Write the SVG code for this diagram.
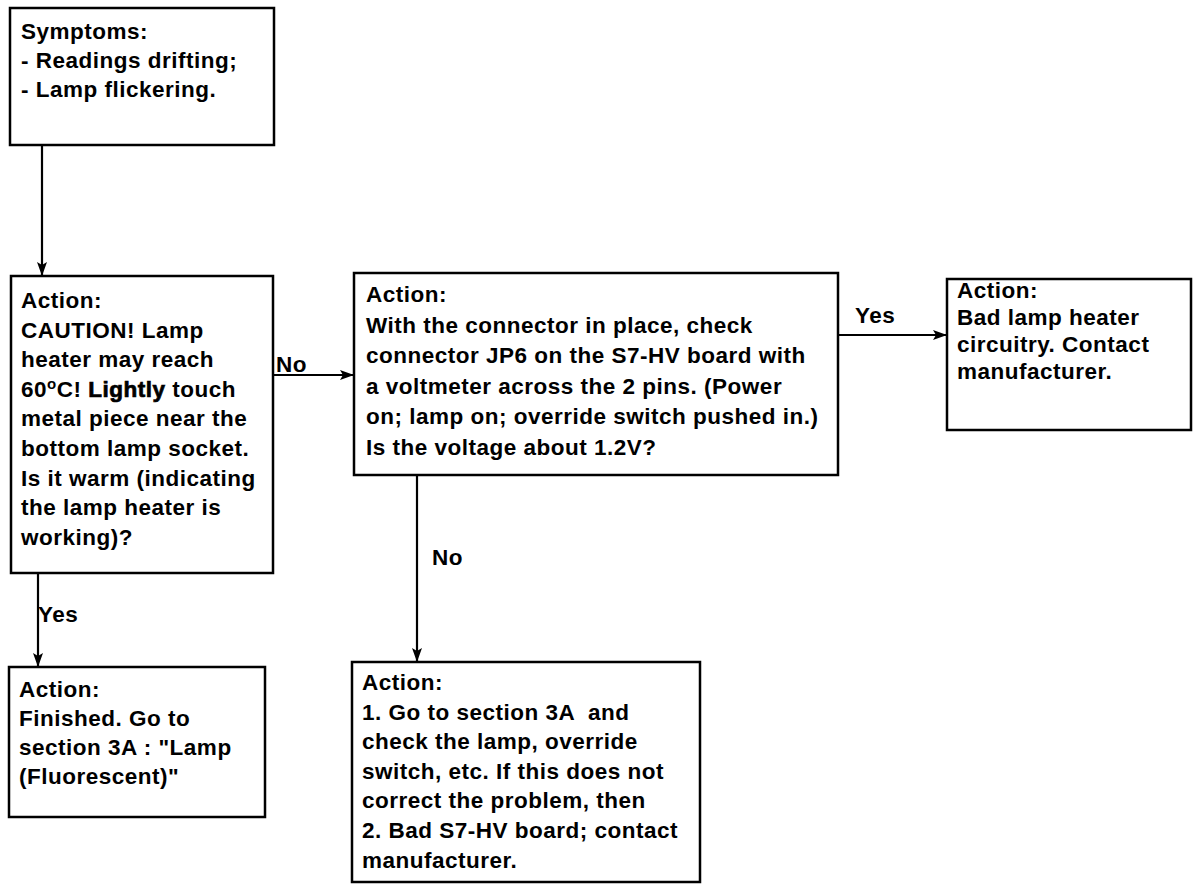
<svg xmlns="http://www.w3.org/2000/svg" width="1193" height="884" viewBox="0 0 1193 884">
  <style>
    .box { fill: #fff; stroke: #000; stroke-width: 2.5; }
    .t { font-family: "Liberation Sans", Arial, sans-serif; font-size: 22.5px; font-weight: bold; fill: #000; letter-spacing: 0.5px; }
    .wire { fill: none; stroke: #000; stroke-width: 2.2; }
    .em { stroke: #000; stroke-width: 0.7; }
  </style>
  <defs>
    <marker id="arr" viewBox="0 0 14 10" refX="13" refY="5" markerWidth="14" markerHeight="10" markerUnits="userSpaceOnUse" orient="auto">
      <path d="M0,0 L14,5 L0,10 L3,5 z" fill="#000"/>
    </marker>
  </defs>
  <rect width="1193" height="884" fill="#fff"/>

  <!-- connectors -->
  <g id="connectors">
    <line class="wire" x1="42" y1="145" x2="42" y2="275" marker-end="url(#arr)"/>
    <line class="wire" x1="273" y1="375" x2="353" y2="375" marker-end="url(#arr)"/>
    <text class="t" x="276" y="372">No</text>
    <line class="wire" x1="838" y1="335" x2="946" y2="335" marker-end="url(#arr)"/>
    <text class="t" x="855" y="323">Yes</text>
    <line class="wire" x1="38" y1="573" x2="38" y2="666" marker-end="url(#arr)"/>
    <text class="t" x="38" y="622">Yes</text>
    <line class="wire" x1="417" y1="475" x2="417" y2="661" marker-end="url(#arr)"/>
    <text class="t" x="432" y="565">No</text>
  </g>

  <!-- symptoms -->
  <g id="symptoms">
    <rect class="box" x="10" y="8" width="264" height="137"/>
    <text class="t" x="21" y="39">Symptoms:</text>
    <text class="t" x="21" y="68">- Readings drifting;</text>
    <text class="t" x="21" y="97">- Lamp flickering.</text>
  </g>

  <!-- heater check -->
  <g id="heater-check">
    <rect class="box" x="11" y="276" width="262" height="297"/>
    <text class="t" x="21" y="308">Action:</text>
    <text class="t" x="21" y="337.6">CAUTION! Lamp</text>
    <text class="t" x="21" y="367.2">heater may reach</text>
    <text class="t" x="21" y="396.8">60<tspan dy="-8" font-size="15">o</tspan><tspan dy="8">C! </tspan><tspan class="em">Lightly</tspan> touch</text>
    <text class="t" x="21" y="426.4">metal piece near the</text>
    <text class="t" x="21" y="456">bottom lamp socket.</text>
    <text class="t" x="21" y="485.6">Is it warm (indicating</text>
    <text class="t" x="21" y="515.2">the lamp heater is</text>
    <text class="t" x="21" y="544.8">working)?</text>
  </g>

  <!-- JP6 voltage check -->
  <g id="jp6-check">
    <rect class="box" x="354" y="273" width="484" height="202"/>
    <text class="t" x="366" y="302">Action:</text>
    <text class="t" x="366" y="332.5">With the connector in place, check</text>
    <text class="t" x="366" y="363">connector JP6 on the S7-HV board with</text>
    <text class="t" x="366" y="393.5">a voltmeter across the 2 pins. (Power</text>
    <text class="t" x="366" y="424">on; lamp on; override switch pushed in.)</text>
    <text class="t" x="366" y="454.5">Is the voltage about 1.2V?</text>
  </g>

  <!-- bad heater circuitry -->
  <g id="bad-heater">
    <rect class="box" x="947" y="279" width="244" height="151"/>
    <text class="t" x="957" y="298">Action:</text>
    <text class="t" x="957" y="325">Bad lamp heater</text>
    <text class="t" x="957" y="352">circuitry. Contact</text>
    <text class="t" x="957" y="379">manufacturer.</text>
  </g>

  <!-- finished -->
  <g id="finished">
    <rect class="box" x="9" y="667" width="256" height="150"/>
    <text class="t" x="19" y="697">Action:</text>
    <text class="t" x="19" y="726">Finished. Go to</text>
    <text class="t" x="19" y="755">section 3A : "Lamp</text>
    <text class="t" x="19" y="784">(Fluorescent)"</text>
  </g>

  <!-- section 3A / board fault -->
  <g id="board-fault">
    <rect class="box" x="352" y="662" width="348" height="220"/>
    <text class="t" x="362" y="690">Action:</text>
    <text class="t" x="362" y="719.6" style="white-space:pre">1. Go to section 3A  and</text>
    <text class="t" x="362" y="749.2">check the lamp, override</text>
    <text class="t" x="362" y="778.8">switch, etc. If this does not</text>
    <text class="t" x="362" y="808.4">correct the problem, then</text>
    <text class="t" x="362" y="838">2. Bad S7-HV board; contact</text>
    <text class="t" x="362" y="867.6">manufacturer.</text>
  </g>
</svg>
